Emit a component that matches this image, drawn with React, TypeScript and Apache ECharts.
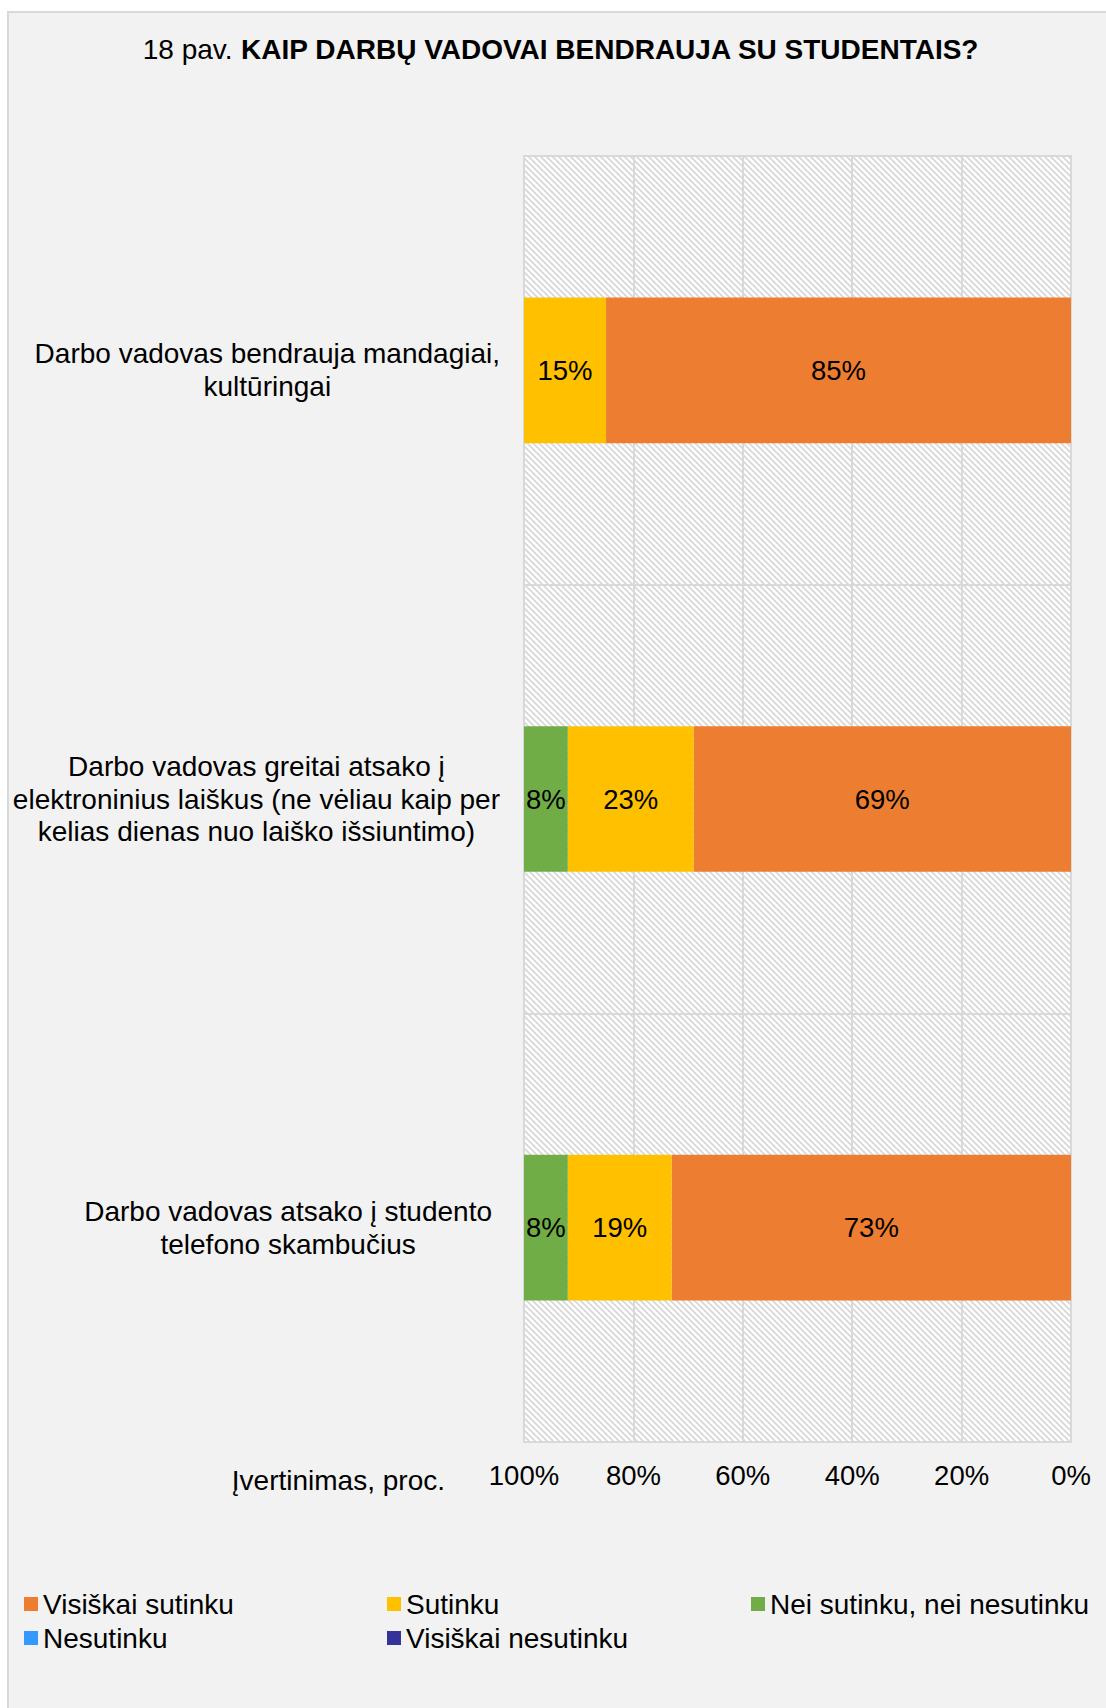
import React, { useEffect, useRef } from 'react';
import * as echarts from 'echarts';

const categories = [
  'Darbo vadovas bendrauja mandagiai, kultūringai',
  'Darbo vadovas greitai atsako į elektroninius laiškus (ne vėliau kaip per kelias dienas nuo laiško išsiuntimo)',
  'Darbo vadovas atsako į studento telefono skambučius',
];
const categoryLines = [
  ['Darbo vadovas bendrauja mandagiai,', 'kultūringai'],
  ['Darbo vadovas greitai atsako į', 'elektroninius laiškus (ne vėliau kaip per', 'kelias dienas nuo laiško išsiuntimo)'],
  ['Darbo vadovas atsako į studento', 'telefono skambučius'],
];
const seriesNames = ['Visiškai sutinku', 'Sutinku', 'Nei sutinku, nei nesutinku', 'Nesutinku', 'Visiškai nesutinku'];
const visiskaiSutinku = [85, 69, 73];
const sutinku = [15, 23, 19];
const neiSutinkuNeiNesutinku = [0, 8, 8];
const nesutinku = [0, 0, 0];
const visiskaiNesutinku = [0, 0, 0];
const seriesValues = [visiskaiSutinku, sutinku, neiSutinkuNeiNesutinku, nesutinku, visiskaiNesutinku];
const seriesColors = ['#ED7D31', '#FFC000', '#70AD47', '#3399FF', '#333399'];
const xMin = 0;
const xMax = 100;
const xInterval = 20;
const titlePrefix = '18 pav. ';
const titleMain = 'KAIP DARBŲ VADOVAI BENDRAUJA SU STUDENTAIS?';
const axisNameText = 'Įvertinimas, proc.';

const FONT = '"Liberation Sans", Arial, sans-serif';

const tileSvg =
  '<svg xmlns="http://www.w3.org/2000/svg" width="6" height="6">' +
  '<rect width="6" height="6" fill="#ffffff"/>' +
  '<path d="M-1,-1L7,7M-4,2L2,8M2,-4L8,2" stroke="#d6d6d6" stroke-width="1.6"/>' +
  '</svg>';
const tileUrl = 'data:image/svg+xml;charset=utf-8,' + encodeURIComponent(tileSvg);

export default function App() {
  const ref = useRef<HTMLDivElement>(null);
  useEffect(() => {
    if (!ref.current) return;
    const chart = echarts.init(ref.current, null, { renderer: 'svg' });
    const legendLeft = [24, 387, 751, 24, 387];
    const legendTop = [1589, 1589, 1589, 1623, 1623];
    const labelRightPad = [0, 0, 8];
    const option: any = {
      animation: false,
      backgroundColor: '#f2f2f2',
      title: {
        text: `{a|${titlePrefix}}{b|${titleMain}}`,
        left: 561,
        top: 32,
        textAlign: 'center',
        padding: 0,
        textStyle: {
          rich: {
            a: { fontFamily: FONT, fontSize: 28, color: '#000', fontWeight: 'normal', lineHeight: 34 },
            b: { fontFamily: FONT, fontSize: 28, color: '#000', fontWeight: 'bold', lineHeight: 34 },
          },
        },
      },
      grid: {
        show: true,
        left: 524,
        top: 156,
        width: 547,
        height: 1286,
        borderColor: '#d9d9d9',
        borderWidth: 2,
        backgroundColor: { image: tileUrl, repeat: 'repeat', imageWidth: 6, imageHeight: 6 },
        containLabel: false,
      },
      xAxis: {
        type: 'value',
        min: xMin,
        max: xMax,
        interval: xInterval,
        inverse: true,
        axisLine: { show: false },
        axisTick: { show: false },
        splitLine: { show: true, lineStyle: { color: '#d9d9d9', width: 2 } },
        axisLabel: {
          formatter: '{value}%',
          fontFamily: FONT,
          fontSize: 27.5,
          color: '#000',
          margin: 19,
        },
      },
      yAxis: {
        type: 'category',
        data: categories.map((c, i) => ({
          value: c,
          textStyle: { padding: [0, labelRightPad[i], 0, 0] },
        })),
        inverse: true,
        axisLine: { show: false },
        axisTick: { show: false },
        splitLine: { show: true, lineStyle: { color: '#d9d9d9', width: 2 } },
        axisLabel: {
          margin: 24,
          align: 'right',
          formatter: (value: string) => {
            const idx = categories.indexOf(value);
            const lines = idx >= 0 ? categoryLines[idx] : [value];
            return lines.map((l) => `{c|${l}}`).join('\n');
          },
          rich: {
            c: { align: 'center', fontFamily: FONT, fontSize: 28, color: '#000', lineHeight: 32.7 },
          },
        },
      },
      legend: seriesNames.map((n, i) => ({
        data: [n],
        left: legendLeft[i],
        top: legendTop[i],
        padding: 0,
        itemGap: 0,
        itemWidth: 14,
        itemHeight: 14,
        icon: 'rect',
        selectedMode: false,
        textStyle: { fontFamily: FONT, fontSize: 28, color: '#000', lineHeight: 30 },
      })),
      graphic: [
        { type: 'rect', shape: { x: 0, y: 0, width: 1106, height: 11 }, style: { fill: '#ffffff' }, silent: true },
        { type: 'rect', shape: { x: 0, y: 0, width: 7, height: 1708 }, style: { fill: '#ffffff' }, silent: true },
        { type: 'line', shape: { x1: 7, y1: 12, x2: 1106, y2: 12 }, style: { stroke: '#d9d9d9', lineWidth: 2 }, silent: true },
        { type: 'line', shape: { x1: 8, y1: 11, x2: 8, y2: 1708 }, style: { stroke: '#d9d9d9', lineWidth: 2 }, silent: true },
        {
          type: 'text',
          x: 445,
          y: 1480,
          style: {
            text: axisNameText,
            fontFamily: FONT,
            fontSize: 28,
            fill: '#000',
            align: 'right',
            verticalAlign: 'middle',
          },
        },
      ],
      series: seriesNames.map((n, i) => ({
        name: n,
        type: 'bar',
        stack: 'total',
        barCategoryGap: '66%',
        itemStyle: { color: seriesColors[i] },
        label: {
          show: true,
          position: 'inside',
          fontFamily: FONT,
          fontSize: 27.5,
          color: '#000',
          formatter: (p: any) => (p.value > 0 ? `${p.value}%` : ''),
        },
        data: seriesValues[i],
      })),
    };
    chart.setOption(option);
    return () => chart.dispose();
  }, []);
  return (
    <div
      ref={ref}
      style={{ position: 'fixed', left: 0, top: 0, width: 1106, height: 1708 }}
    />
  );
}
